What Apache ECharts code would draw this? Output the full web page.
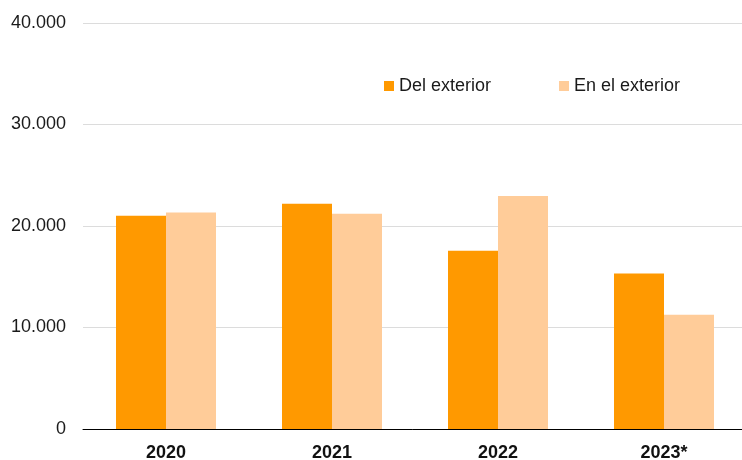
<!DOCTYPE html>
<html>
<head>
<meta charset="utf-8">
<script src="https://cdn.jsdelivr.net/npm/echarts@6/dist/echarts.min.js"></script>
<style>
  html, body { margin: 0; padding: 0; background: #fff; }
  #chart { width: 742px; height: 460px; }
</style>
</head>
<body>
<div id="chart"></div>
<script>
const years = ['2020', '2021', '2022', '2023*']
const delExterior = [21000, 22200, 17570, 15330]
const enElExterior = [21340, 21210, 22950, 11260]

const chart = echarts.init(document.getElementById('chart'))
const font = 'Liberation Sans, Arial, Helvetica, sans-serif'

chart.setOption({
  animation: false,
  textStyle: { fontFamily: font },
  grid: {
    left: 83,
    right: -5,
    top: 23,
    bottom: 31,
    containLabel: false,
    outerBoundsMode: 'none',
  },
  legend: {
    left: 379,
    top: 72,
    itemWidth: 10,
    itemHeight: 10,
    itemGap: 68,
    icon: 'rect',
    textStyle: { fontSize: 18, color: '#1a1a1a', fontFamily: font },
    data: ['Del exterior', 'En el exterior'],
  },
  xAxis: {
    type: 'category',
    data: years,
    axisLine: { lineStyle: { color: '#000', width: 1 } },
    axisTick: { show: false },
    axisLabel: {
      fontSize: 18,
      fontWeight: 'bold',
      color: '#111',
      margin: 15,
    },
  },
  yAxis: {
    type: 'value',
    min: 0,
    max: 40000,
    interval: 10000,
    axisLine: { show: false },
    axisTick: { show: false },
    splitLine: { lineStyle: { color: '#dcdcdc' } },
    axisLabel: {
      fontSize: 18,
      color: '#1a1a1a',
      margin: 17,
      formatter: (v) => v === 0 ? '0' : v.toLocaleString('de-DE'),
    },
  },
  series: [
    {
      name: 'Del exterior',
      type: 'bar',
      data: delExterior,
      barWidth: 50,
      barGap: '0%',
      itemStyle: { color: '#ff9900' },
    },
    {
      name: 'En el exterior',
      type: 'bar',
      data: enElExterior,
      barWidth: 50,
      barGap: '0%',
      itemStyle: { color: '#ffcc99' },
    },
  ],
})
</script>
</body>
</html>
